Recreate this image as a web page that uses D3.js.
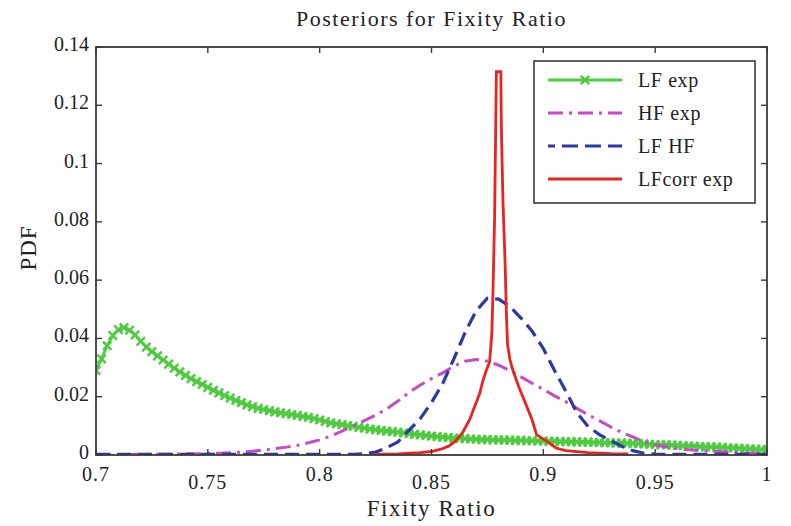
<!DOCTYPE html>
<html>
<head>
<meta charset="utf-8">
<script src="https://cdn.jsdelivr.net/npm/d3@7"></script>
<style>
  body { margin: 0; background: #fff; }
  svg { display: block; }
  text { font-family: "Liberation Serif", "Times New Roman", serif; fill: #222; }
</style>
</head>
<body>
<svg id="chart" width="791" height="526"></svg>
<script>
// ---------------- data ----------------
const xTicks = [0.7, 0.75, 0.8, 0.85, 0.9, 0.95, 1];
const xTickLabels = ["0.7", "0.75", "0.8", "0.85", "0.9", "0.95", "1"];
const yTicks = [0, 0.02, 0.04, 0.06, 0.08, 0.1, 0.12, 0.14];
const yTickLabels = ["0", "0.02", "0.04", "0.06", "0.08", "0.1", "0.12", "0.14"];
const seriesNames = ["LF exp", "HF exp", "LF HF", "LFcorr exp"];

// LF exp: x grid 0.7..1.0 step 0.0025 (values in PDF units)
const lfExpX = d3.range(0, 121).map(i => +(0.7 + i * 0.0025).toFixed(4));
const lfExpY = [
  0.0290, 0.0330, 0.0375, 0.0410, 0.0430, 0.0437, 0.0428, 0.0412, 0.0390, 0.0370,
  0.0355, 0.0340, 0.0326, 0.0312, 0.0298, 0.0285, 0.0273, 0.0262, 0.0252, 0.0242,
  0.0232, 0.0222, 0.0213, 0.0204, 0.0195, 0.0187, 0.0180, 0.0172, 0.0166, 0.0160,
  0.0156, 0.0152, 0.0148, 0.0145, 0.0142, 0.0139, 0.0136, 0.0132, 0.0129, 0.0125,
  0.0120, 0.0115, 0.0110, 0.0107, 0.0104, 0.0101, 0.0098, 0.0095, 0.0092, 0.0089,
  0.0087, 0.0084, 0.0082, 0.0080, 0.0078, 0.0076, 0.0073, 0.0071, 0.0069, 0.0067,
  0.0065, 0.0063, 0.0061, 0.0060, 0.0058, 0.0057, 0.0056, 0.0055, 0.0054, 0.0053,
  0.0053, 0.0052, 0.0052, 0.0051, 0.0051, 0.0050, 0.0050, 0.0049, 0.0049, 0.0048,
  0.0048, 0.0047, 0.0047, 0.0046, 0.0046, 0.0045, 0.0045, 0.0044, 0.0044, 0.0043,
  0.0043, 0.0042, 0.0042, 0.0041, 0.0041, 0.0040, 0.0040, 0.0039, 0.0038, 0.0037,
  0.0036, 0.0035, 0.0035, 0.0034, 0.0033, 0.0032, 0.0031, 0.0030, 0.0029, 0.0028,
  0.0028, 0.0027, 0.0026, 0.0025, 0.0024, 0.0023, 0.0022, 0.0021, 0.0020, 0.0019,
  0.0018
];

// HF exp and LF HF: x grid 0.7..1.0 step 0.005
const gridX = d3.range(0, 61).map(i => +(0.7 + i * 0.005).toFixed(3));
const hfExpY = [
  0.0002, 0.0002, 0.0002, 0.0002, 0.0003, 0.0003, 0.0003, 0.0003, 0.0004, 0.0004,
  0.0005, 0.0006, 0.0008, 0.0010, 0.0013, 0.0017, 0.0022, 0.0027, 0.0033, 0.0042,
  0.0052, 0.0065, 0.0082, 0.0100, 0.0118, 0.0137, 0.0158, 0.0185, 0.0215, 0.0240,
  0.0262, 0.0282, 0.0305, 0.0322, 0.0328, 0.0322, 0.0308, 0.0290, 0.0268, 0.0246,
  0.0225, 0.0203, 0.0183, 0.0160, 0.0138, 0.0118, 0.0097, 0.0078, 0.0062, 0.0046,
  0.0035, 0.0028, 0.0022, 0.0018, 0.0015, 0.0013, 0.0011, 0.0009, 0.0007, 0.0006,
  0.0005
];
const lfHfY = [
  0.0002, 0.0002, 0.0002, 0.0002, 0.0002, 0.0002, 0.0002, 0.0002, 0.0002, 0.0002,
  0.0002, 0.0002, 0.0002, 0.0002, 0.0002, 0.0002, 0.0002, 0.0002, 0.0002, 0.0002,
  0.0002, 0.0002, 0.0002, 0.0002, 0.0004, 0.0010, 0.0025, 0.0045, 0.0085, 0.0125,
  0.0180, 0.0245, 0.0330, 0.0420, 0.0495, 0.0538, 0.0535, 0.0510, 0.0470, 0.0425,
  0.0365, 0.0290, 0.0220, 0.0145, 0.0098, 0.0070, 0.0050, 0.0030, 0.0015, 0.0006,
  0.0003, 0.0002, 0.0002, 0.0002, 0.0002, 0.0002, 0.0002, 0.0002, 0.0002, 0.0002,
  0.0002
];

// LFcorr exp: irregular x (sharp spike)
const lfCorrX = [
  0.824, 0.830, 0.835, 0.840, 0.845, 0.850, 0.855, 0.858, 0.861, 0.864,
  0.867, 0.869, 0.8715, 0.873, 0.8745, 0.876, 0.8770, 0.8775, 0.8782, 0.8787,
  0.8790, 0.8810, 0.8812, 0.8815, 0.8820, 0.8825, 0.8830, 0.8835, 0.8840, 0.8850,
  0.8860, 0.8890, 0.8920, 0.8950, 0.8970, 0.9010, 0.9057, 0.9100, 0.9200, 0.9300,
  0.9380
];
const lfCorrY = [
  0.0002, 0.0003, 0.0004, 0.0006, 0.0008, 0.0012, 0.0022, 0.0032, 0.0050, 0.0078,
  0.0120, 0.0160, 0.0210, 0.0255, 0.0290, 0.0320, 0.0420, 0.0566, 0.0810, 0.1120,
  0.1315, 0.1315, 0.1140, 0.1024, 0.0858, 0.0750, 0.0635, 0.0480, 0.0380, 0.0330,
  0.0300, 0.0234, 0.0178, 0.0120, 0.0069, 0.0050, 0.0024, 0.0015, 0.0008, 0.0005,
  0.0004
];

// ---------------- layout ----------------
const svg = d3.select("#chart");
const L = 96, R = 767, T = 47, B = 455;
const x = d3.scaleLinear().domain([0.7, 1]).range([L, R]);
const y = d3.scaleLinear().domain([0, 0.14]).range([B, T]);

const colors = { green: "#4fcb3f", magenta: "#c64bc4", blue: "#2b38a6", red: "#e8241f" };

svg.append("clipPath").attr("id", "clip")
  .append("rect").attr("x", L).attr("y", T).attr("width", R - L).attr("height", B - T);

const plot = svg.append("g").attr("clip-path", "url(#clip)");

const line = d3.line().x(d => x(d[0])).y(d => y(d[1]));

const zip = (xs, ys) => xs.map((v, i) => [v, ys[i]]);

// LF exp (green with x markers)
const greenData = zip(lfExpX, lfExpY);
plot.append("path").datum(greenData)
  .attr("d", line).attr("fill", "none")
  .attr("stroke", colors.green).attr("stroke-width", 2.8);
const mk = 4.2;
plot.append("g").selectAll("path").data(greenData).join("path")
  .attr("d", d => {
    const cx = x(d[0]), cy = y(d[1]);
    return `M${cx - mk},${cy - mk}L${cx + mk},${cy + mk}M${cx - mk},${cy + mk}L${cx + mk},${cy - mk}`;
  })
  .attr("stroke", colors.green).attr("stroke-width", 2.5).attr("fill", "none");

// HF exp (magenta dash-dot)
plot.append("path").datum(zip(gridX, hfExpY))
  .attr("d", line).attr("fill", "none")
  .attr("stroke", colors.magenta).attr("stroke-width", 3)
  .attr("stroke-dasharray", "15,6,3,6");

// LF HF (blue dashed)
plot.append("path").datum(zip(gridX, lfHfY))
  .attr("d", line).attr("fill", "none")
  .attr("stroke", colors.blue).attr("stroke-width", 3.2)
  .attr("stroke-dasharray", "14,7");

// LFcorr exp (red solid)
plot.append("path").datum(zip(lfCorrX, lfCorrY))
  .attr("d", line).attr("fill", "none")
  .attr("stroke", colors.red).attr("stroke-width", 2.8)
  .attr("stroke-linejoin", "miter");

// ---------------- axes frame & ticks ----------------
const frameColor = "#3a3a3a";
svg.append("rect").attr("x", L).attr("y", T).attr("width", R - L).attr("height", B - T)
  .attr("fill", "none").attr("stroke", frameColor).attr("stroke-width", 1.8);

const tickLen = 6;
const ticks = svg.append("g").attr("stroke", frameColor).attr("stroke-width", 1.4);
xTicks.forEach(t => {
  ticks.append("line").attr("x1", x(t)).attr("x2", x(t)).attr("y1", B).attr("y2", B - tickLen);
  ticks.append("line").attr("x1", x(t)).attr("x2", x(t)).attr("y1", T).attr("y2", T + tickLen);
});
yTicks.forEach(t => {
  ticks.append("line").attr("x1", L).attr("x2", L + tickLen).attr("y1", y(t)).attr("y2", y(t));
  ticks.append("line").attr("x1", R).attr("x2", R - tickLen).attr("y1", y(t)).attr("y2", y(t));
});

// x tick labels (staggered as in the original)
svg.append("g").selectAll("text").data(xTicks).join("text")
  .attr("x", d => x(d))
  .attr("y", (d, i) => i % 2 === 0 ? 481 : 489)
  .attr("text-anchor", "middle")
  .attr("font-size", 20)
  .attr("letter-spacing", 1)
  .text((d, i) => xTickLabels[i]);

// y tick labels
svg.append("g").selectAll("text").data(yTicks).join("text")
  .attr("x", 89)
  .attr("y", d => y(d) + 4)
  .attr("text-anchor", "end")
  .attr("font-size", 20)
  .text((d, i) => yTickLabels[i]);

// title & axis labels
svg.append("text").attr("x", (L + R) / 2).attr("y", 26)
  .attr("text-anchor", "middle").attr("font-size", 22)
  .attr("letter-spacing", 1.5)
  .text("Posteriors for Fixity Ratio");
svg.append("text").attr("x", (L + R) / 2).attr("y", 516)
  .attr("text-anchor", "middle").attr("font-size", 23)
  .attr("letter-spacing", 1.6)
  .text("Fixity Ratio");
svg.append("text")
  .attr("transform", `translate(36, ${(T + B) / 2 - 3}) rotate(-90)`)
  .attr("text-anchor", "middle").attr("font-size", 23)
  .attr("letter-spacing", 1)
  .text("PDF");

// ---------------- legend ----------------
const lg = svg.append("g");
lg.append("rect").attr("x", 534).attr("y", 61).attr("width", 221).attr("height", 142)
  .attr("fill", "#fff").attr("stroke", frameColor).attr("stroke-width", 1.6);
const legendItems = [
  { name: seriesNames[0], color: colors.green, dash: null, w: 2.8, marker: true },
  { name: seriesNames[1], color: colors.magenta, dash: "15,6,3,6", w: 3 },
  { name: seriesNames[2], color: colors.blue, dash: "16,7", w: 3.2, offset: 9 },
  { name: seriesNames[3], color: colors.red, dash: null, w: 2.8 }
];
legendItems.forEach((it, i) => {
  const ly = 80 + i * 33;
  const ln = lg.append("line").attr("x1", 548).attr("x2", 622).attr("y1", ly).attr("y2", ly)
    .attr("stroke", it.color).attr("stroke-width", it.w);
  if (it.dash) ln.attr("stroke-dasharray", it.dash);
  if (it.offset) ln.attr("stroke-dashoffset", it.offset);
  if (it.marker) {
    const cx = 585;
    lg.append("path")
      .attr("d", `M${cx - mk},${ly - mk}L${cx + mk},${ly + mk}M${cx - mk},${ly + mk}L${cx + mk},${ly - mk}`)
      .attr("stroke", it.color).attr("stroke-width", 2.5);
  }
  lg.append("text").attr("x", 638).attr("y", ly + 7).attr("font-size", 20)
    .attr("letter-spacing", 0.6).text(it.name);
});
</script>
</body>
</html>
